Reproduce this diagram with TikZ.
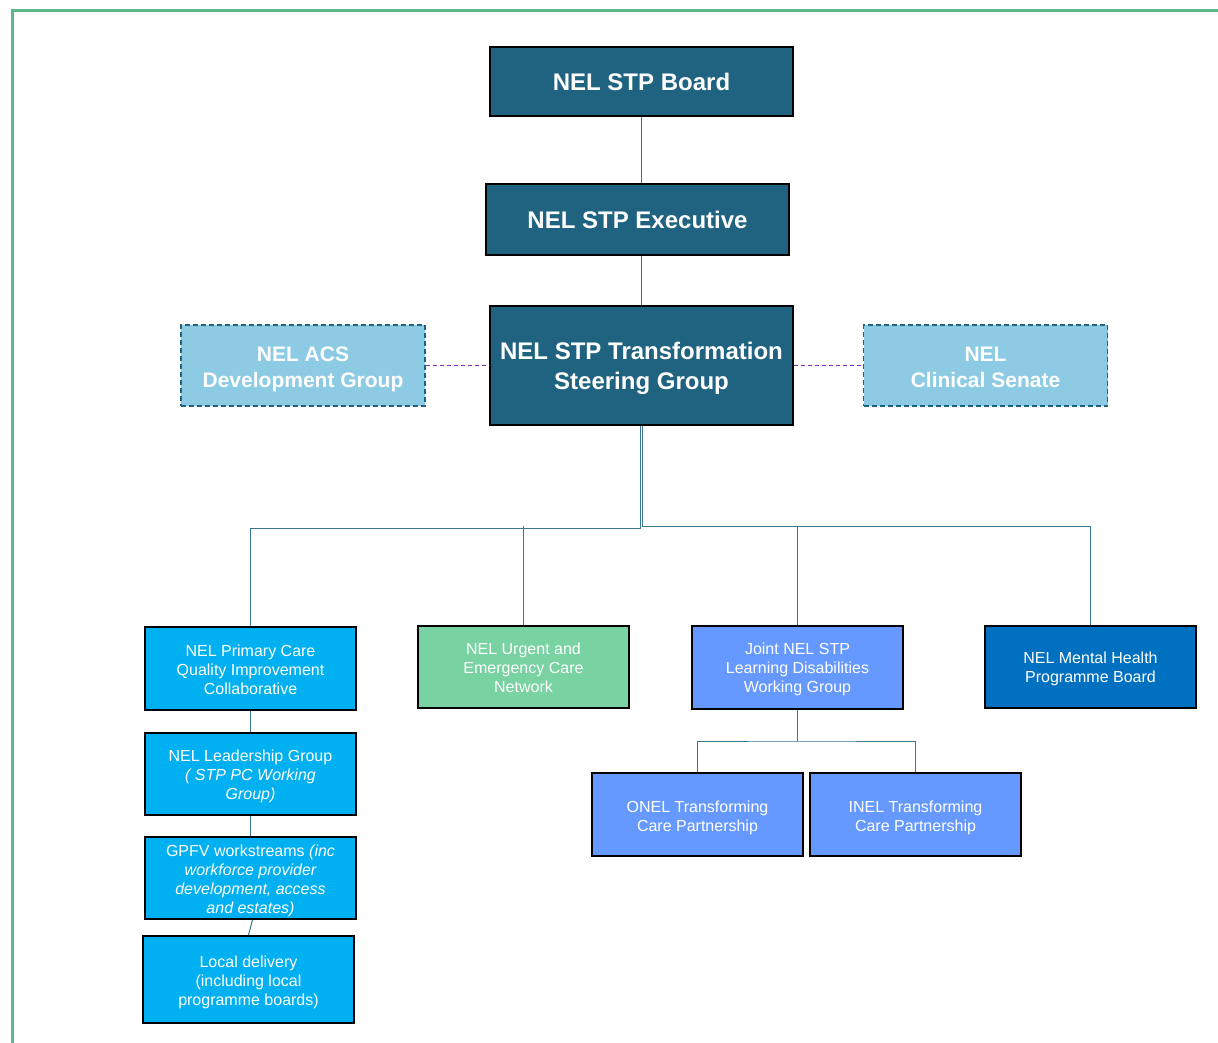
\documentclass[tikz,border=0pt]{standalone}
\usepackage{fontspec}
\setmainfont{Liberation Sans}
\usetikzlibrary{calc}
\definecolor{darkteal}{HTML}{1F6381}
\definecolor{lightteal}{HTML}{8DCBE4}
\definecolor{cyanbox}{HTML}{00B0F0}
\definecolor{greenbox}{HTML}{78D2A1}
\definecolor{ldbox}{HTML}{6699FF}
\definecolor{mhbox}{HTML}{0070C0}
\definecolor{connc}{HTML}{3A7691}
\definecolor{purp}{HTML}{7A2FC0}
\definecolor{frame}{HTML}{5DB88A}
\newcommand{\boxlines}[2]{\raisebox{#1}[\height][\depth]{\begin{tabular}{@{}c@{}}#2\end{tabular}}}
\tikzset{
  x=1pt, y=-1pt,
  darkbox/.style={draw=black, line width=1.6pt, fill=darkteal, text=white, font=\bfseries\fontsize{24}{29.5}\selectfont, inner sep=0pt},
  dashbox/.style={draw=darkteal, dashed, dash pattern=on 5pt off 3pt, line width=1.6pt, fill=lightteal, text=white, font=\bfseries\fontsize{21}{26}\selectfont, inner sep=0pt, minimum width=244pt, minimum height=81pt},
  smallbox/.style={draw=black, line width=1.6pt, text=white, font=\fontsize{16}{19}\selectfont, inner sep=0pt, minimum width=211pt, minimum height=83pt},
  conn/.style={draw=connc, line width=1pt},
  purpline/.style={draw=purp, line width=1.2pt, dashed, dash pattern=on 4pt off 3pt}
}
\begin{document}
\begin{tikzpicture}
\useasboundingbox (0,0) rectangle (1218,1043);
\draw[frame, line width=3pt] (12,1045) -- (12,10.5) -- (1220,10.5);

\node[darkbox, minimum width=303pt, minimum height=69pt] (board) at (641.5,81.5) {\boxlines{-3.2pt}{NEL STP Board}};
\node[darkbox, minimum width=303pt, minimum height=71pt] (exec) at (637.5,219.5) {\boxlines{-3.5pt}{NEL STP Executive}};
\node[darkbox, minimum width=303pt, minimum height=119pt] (sg) at (641.5,365.5) {\boxlines{-3pt}{NEL STP Transformation\\Steering Group}};
\node[dashbox] (acs) at (303,365.5) {\boxlines{-3.3pt}{NEL ACS\\Development Group}};
\node[dashbox] (sen) at (985.5,365.5) {\boxlines{-3.3pt}{NEL\\Clinical Senate}};

\node[smallbox, fill=cyanbox] (pc) at (250.5,668.5) {\boxlines{-3pt}{NEL Primary Care\\Quality Improvement\\Collaborative}};
\node[smallbox, fill=cyanbox, minimum height=82pt] (lead) at (250.5,774) {\boxlines{-3pt}{NEL Leadership Group\\\itshape ( STP PC Working\\\itshape Group)}};
\node[smallbox, fill=cyanbox, minimum height=82pt] (gpfv) at (250.5,878) {\boxlines{-3pt}{GPFV workstreams \itshape(inc\\\itshape workforce provider\\\itshape development, access\\\itshape and estates)}};
\node[smallbox, fill=cyanbox, minimum height=87pt] (loc) at (248.5,979.5) {\boxlines{-3pt}{Local delivery\\(including local\\programme boards)}};

\node[smallbox, fill=greenbox, minimum height=82pt] (urg) at (523.5,667) {\boxlines{-3pt}{NEL Urgent and\\Emergency Care\\Network}};
\node[smallbox, fill=ldbox] (ld) at (797.5,667.5) {\boxlines{-2.5pt}{Joint NEL STP\\Learning Disabilities\\Working Group}};
\node[smallbox, fill=mhbox, minimum height=82pt] (mh) at (1090.5,667) {\boxlines{-2.5pt}{NEL Mental Health\\Programme Board}};

\node[smallbox, fill=ldbox] (onel) at (697.5,814.5) {\boxlines{-3.5pt}{ONEL Transforming\\Care Partnership}};
\node[smallbox, fill=ldbox] (inel) at (915.5,814.5) {\boxlines{-3.5pt}{INEL Transforming\\Care Partnership}};

% top connectors
\draw[conn] (board.south) -- (board.south |- exec.north);
\draw[conn] (sg.north |- exec.south) -- (sg.north);
\draw[purpline] (acs.east) -- (sg.west);
\draw[purpline] (sg.east) -- (sen.west);

% main distribution
\coordinate (barA) at (640.5,528);
\coordinate (barB) at (642,526);
\draw[conn] (sg.south -| barA) -- (barA) -| (pc.north);
\draw[conn] (sg.south -| barB) -- (barB) -| (mh.north);
\draw[conn] (urg.north) -- (urg.north |- barB);
\draw[conn] (ld.north) -- (ld.north |- barB);

% left column
\draw[conn] (pc.south) -- (lead.north);
\draw[conn] (lead.south) -- (gpfv.north);
\draw[conn] ([xshift=2pt]gpfv.south) -- (loc.north);

% LD children
\coordinate (ldj) at (797.5,741);
\draw[conn] (ld.south) -- (ldj);
\draw[conn] (onel.north) |- (ldj) -| (inel.north);
\end{tikzpicture}
\end{document}
